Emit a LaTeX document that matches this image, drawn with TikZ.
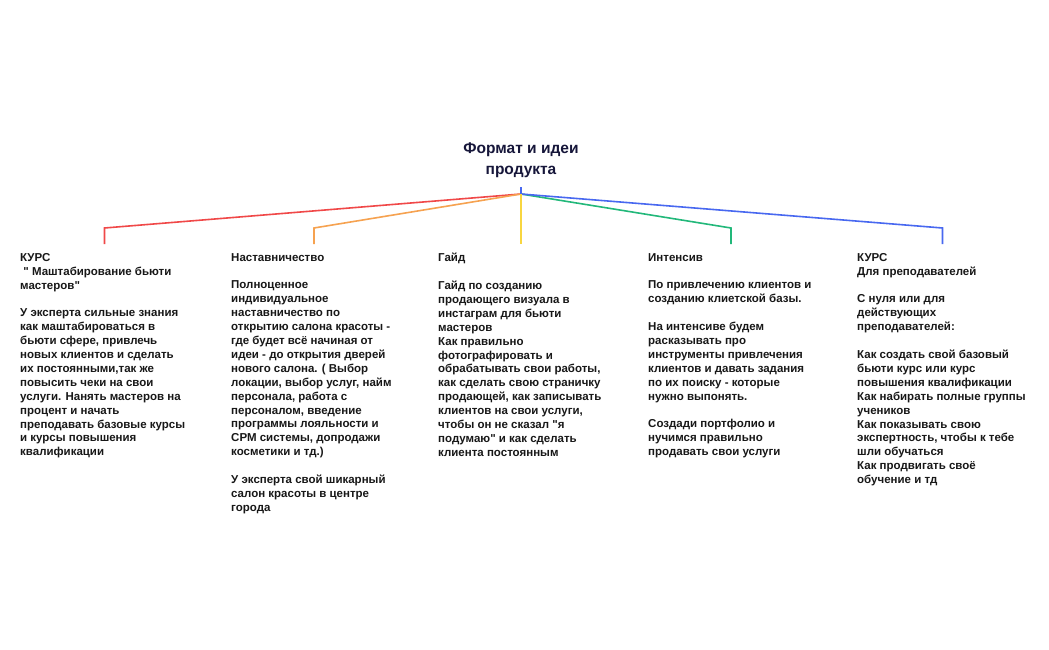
\documentclass[tikz,border=0pt]{standalone}
\usepackage{fontspec}
\setmainfont{Liberation Sans}[Ligatures=TeXOff]
\newcommand{\sq}{"}
\definecolor{cred}{RGB}{240,72,72}
\definecolor{corange}{RGB}{246,162,80}
\definecolor{cyellow}{RGB}{248,214,64}
\definecolor{cgreen}{RGB}{34,184,122}
\definecolor{cblue}{RGB}{72,104,240}
\definecolor{ctitle}{RGB}{22,22,58}
\definecolor{ctext}{RGB}{24,24,24}
\tikzset{
  coltext/.style={anchor=north west, inner sep=0pt, align=left, text=ctext,
    font=\fontsize{11.5}{13.9}\selectfont\bfseries},
  titletext/.style={inner sep=0pt, align=center, text=ctitle,
    font=\fontsize{15.5}{21}\selectfont\bfseries},
  conn/.style={line width=1.6pt, line join=miter}
}
\begin{document}
\begin{tikzpicture}[x=1pt,y=-1pt]
\useasboundingbox (0,0) rectangle (1049,650);
\fill[white] (0,0) rectangle (1049,650);

\node[titletext] (title) at (521,160) {Формат и идеи\\продукта};

\coordinate (hub) at (521,194);
\coordinate (tick) at (521,187);
\coordinate (k1) at (104.5,228); \coordinate (e1) at (104.5,244);
\coordinate (k2) at (314,228);   \coordinate (e2) at (314,244);
\coordinate (e3) at (521,244);
\coordinate (k4) at (731,228);   \coordinate (e4) at (731,244);
\coordinate (k5) at (942.5,228); \coordinate (e5) at (942.5,244);

\draw[conn, cred] (hub) -- (k1) -- (e1);
\draw[conn, corange] (hub) -- (k2) -- (e2);
\draw[conn, cgreen] (hub) -- (k4) -- (e4);
\draw[conn, cblue] (hub) -- (k5) -- (e5);
\draw[conn, cyellow] (hub) -- (e3);
\draw[conn, cblue] (tick) -- (hub);

\node[coltext] (c1) at (20,253) {КУРС\\
\ \sq{} Маштабирование бьюти\\
мастеров\sq\\[13.9pt]
У эксперта сильные знания\\
как маштабироваться в\\
бьюти сфере, привлечь\\
новых клиентов и сделать\\
их постоянными,так же\\
повысить чеки на свои\\
услуги. Нанять мастеров на\\
процент и начать\\
преподавать базовые курсы\\
и курсы повышения\\
квалификации};

\node[coltext] (c2) at (231,253) {Наставничество\\[13.9pt]
Полноценное\\
индивидуальное\\
наставничество по\\
открытию салона красоты -\\
где будет всё начиная от\\
идеи - до открытия дверей\\
нового салона. ( Выбор\\
локации, выбор услуг, найм\\
персонала, работа с\\
персоналом, введение\\
программы лояльности и\\
СРМ системы, допродажи\\
косметики и тд.)\\[13.9pt]
У эксперта свой шикарный\\
салон красоты в центре\\
города};

\node[coltext] (c3) at (438,253) {Гайд\\[13.9pt]
Гайд по созданию\\
продающего визуала в\\
инстаграм для бьюти\\
мастеров\\
Как правильно\\
фотографировать и\\
обрабатывать свои работы,\\
как сделать свою страничку\\
продающей, как записывать\\
клиентов на свои услуги,\\
чтобы он не сказал \sq я\\
подумаю\sq{} и как сделать\\
клиента постоянным};

\node[coltext] (c4) at (648,253) {Интенсив\\[13.9pt]
По привлечению клиентов и\\
созданию клиетской базы.\\[13.9pt]
На интенсиве будем\\
расказывать про\\
инструменты привлечения\\
клиентов и давать задания\\
по их поиску - которые\\
нужно выпонять.\\[13.9pt]
Создади портфолио и\\
нучимся правильно\\
продавать свои услуги};

\node[coltext] (c5) at (857,253) {КУРС\\
Для преподавателей\\[13.9pt]
С нуля или для\\
действующих\\
преподавателей:\\[13.9pt]
Как создать свой базовый\\
бьюти курс или курс\\
повышения квалификации\\
Как набирать полные группы\\
учеников\\
Как показывать свою\\
экспертность, чтобы к тебе\\
шли обучаться\\
Как продвигать своё\\
обучение и тд};
\end{tikzpicture}
\end{document}
